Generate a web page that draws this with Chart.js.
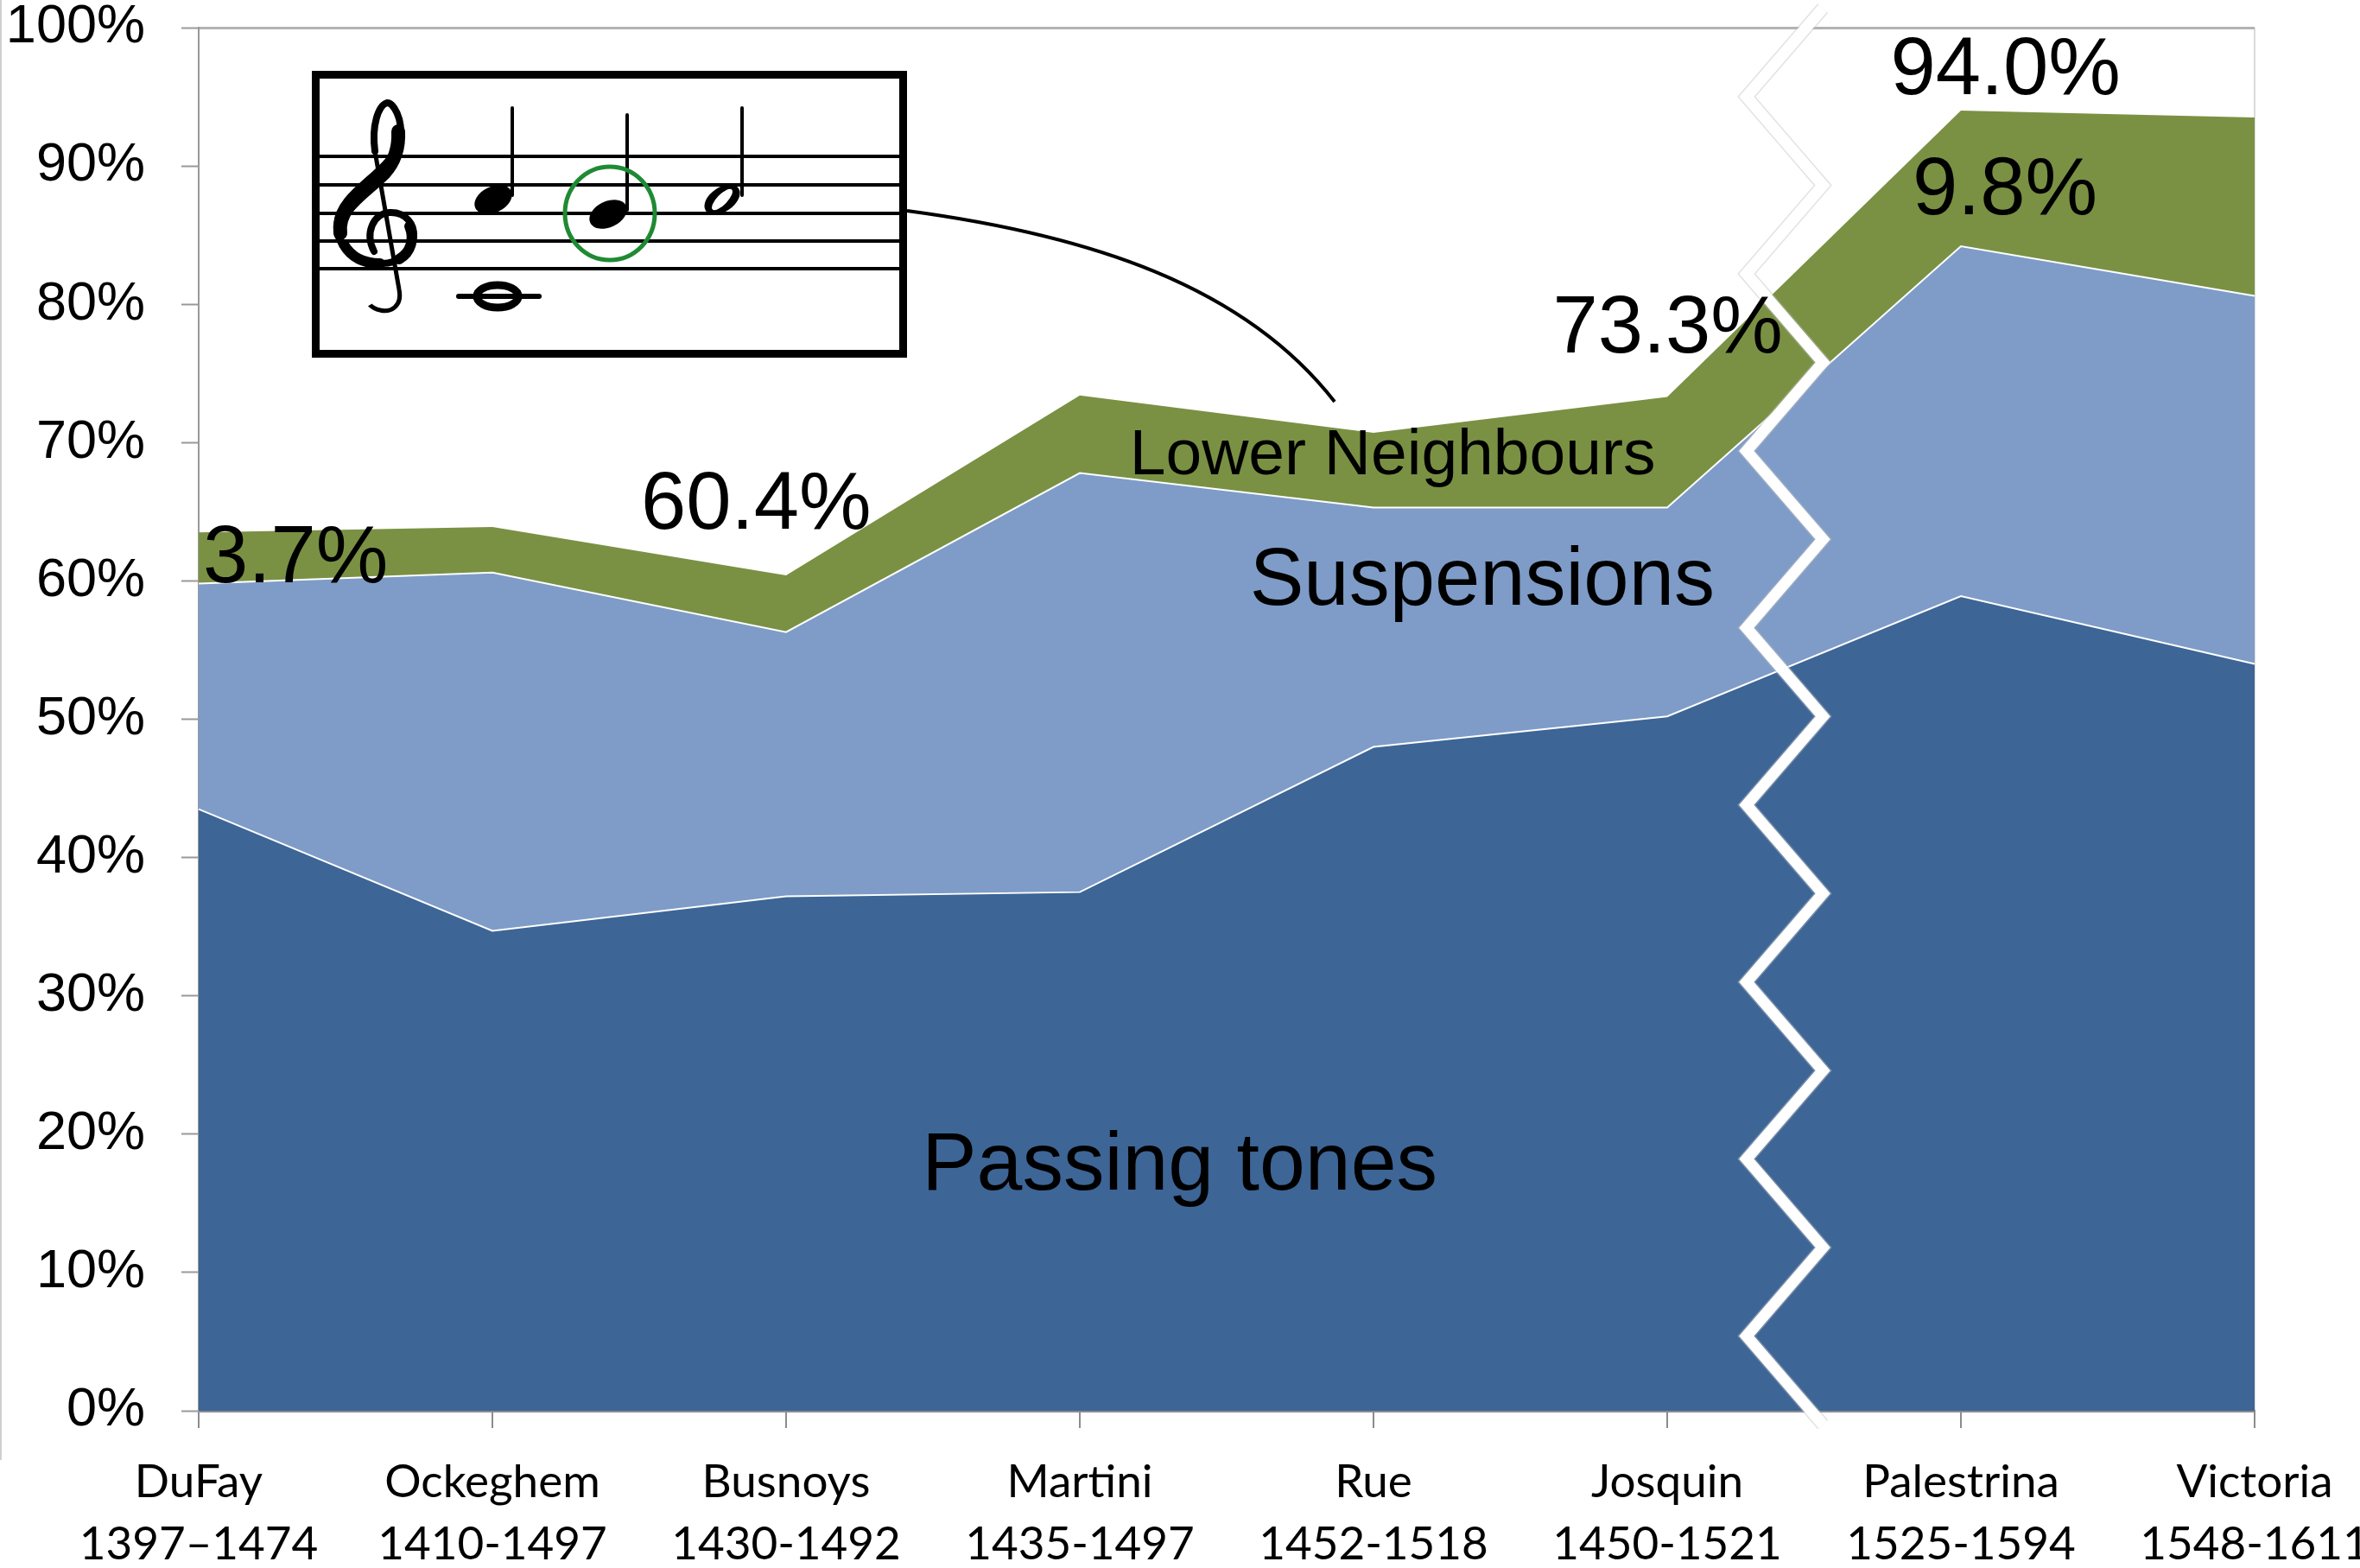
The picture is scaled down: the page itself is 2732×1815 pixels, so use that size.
<!DOCTYPE html>
<html>
<head>
<meta charset="utf-8">
<script src="https://cdn.jsdelivr.net/npm/chart.js@4.4.1/dist/chart.umd.min.js"></script>
<style>
  html, body { margin: 0; padding: 0; background: #fff; overflow: hidden; }
  canvas { display: block; }
</style>
</head>
<body>
<canvas id="chart" width="2732" height="1815"></canvas>
<script>
// Composers and their dates (two-line x labels)
const composers = ['DuFay', 'Ockeghem', 'Busnoys', 'Martini', 'Rue', 'Josquin', 'Palestrina', 'Victoria'];
const lifespans = ['1397\u20131474', '1410-1497', '1430-1492', '1435-1497', '1452-1518', '1450-1521', '1525-1594', '1548-1611'];

// Share of each dissonance type (percent, stacked)
const passingTones = [43.5, 34.7, 37.2, 37.5, 48.0, 50.2, 58.9, 54.0];
const suspensions = [16.3, 25.9, 19.1, 30.3, 17.3, 15.1, 25.3, 26.6];
const lowerNeighbours = [3.7, 3.3, 4.1, 5.6, 5.4, 8.0, 9.8, 12.9];

const yTicks = [0, 10, 20, 30, 40, 50, 60, 70, 80, 90, 100];

// Text written on the chart: [text, category position, value, font size, align]
const notes = [
    ['Passing tones', 3.34, 16.0, 95, 'center'],
    ['Suspensions', 4.37, 58.3, 94, 'center'],
    ['Lower Neighbours', 4.065, 67.7, 75, 'center'],
    ['3.7%', 0.015, 59.9, 94, 'left'],
    ['60.4%', 1.506, 63.8, 94, 'left'],
    ['73.3%', 4.61, 76.5, 94, 'left'],
    ['94.0%', 5.76, 95.2, 94, 'left'],
    ['9.8%', 5.835, 86.5, 94, 'left']
];

const labels = composers.map((c, i) => [c, lifespans[i]]);

// little staff with the circled lower neighbour
function drawStaff(ctx) {
    ctx.save();
    ctx.fillStyle = '#fff';
    ctx.fillRect(361, 82, 689, 332);
    ctx.strokeStyle = '#000';
    ctx.lineWidth = 9;
    ctx.strokeRect(365.5, 86.5, 680, 323);

    ctx.lineWidth = 4;
    [181, 214, 247, 279, 311].forEach(y => {
        ctx.beginPath();
        ctx.moveTo(370, y);
        ctx.lineTo(1041, y);
        ctx.stroke();
    });

    // treble clef
    ctx.lineCap = 'round';
    ctx.lineJoin = 'round';
    ctx.lineWidth = 8;
    ctx.beginPath();
    ctx.moveTo(433, 291);
    ctx.bezierCurveTo(422, 270, 432, 247, 451, 246);
    ctx.bezierCurveTo(470, 245, 480, 260, 479, 274);
    ctx.bezierCurveTo(477, 293, 460, 306, 440, 305);
    ctx.bezierCurveTo(410, 304, 389, 285, 390, 260);
    ctx.bezierCurveTo(392, 220, 455, 200, 463, 160);
    ctx.bezierCurveTo(467, 138, 455, 118, 448, 119);
    ctx.bezierCurveTo(438, 122, 430, 145, 434, 175);
    ctx.stroke();
    ctx.lineWidth = 5;
    ctx.beginPath();
    ctx.moveTo(434, 175);
    ctx.lineTo(462, 335);
    ctx.bezierCurveTo(466, 355, 452, 362, 440, 359);
    ctx.bezierCurveTo(430, 357, 424, 350, 424, 344);
    ctx.stroke();
    ctx.lineWidth = 16;
    ctx.beginPath();
    ctx.moveTo(394, 270);
    ctx.bezierCurveTo(390, 240, 420, 225, 445, 200);
    ctx.bezierCurveTo(457, 187, 462, 172, 461, 152);
    ctx.stroke();
    ctx.lineWidth = 12;
    ctx.beginPath();
    ctx.moveTo(398, 283);
    ctx.bezierCurveTo(408, 300, 425, 305, 440, 305);
    ctx.stroke();
    ctx.beginPath();
    ctx.moveTo(474, 262);
    ctx.bezierCurveTo(480, 276, 476, 292, 462, 300);
    ctx.stroke();
    ctx.beginPath();
    ctx.arc(421, 341, 14, 0, Math.PI * 2);
    ctx.fill();

    // quarter notes
    ctx.fillStyle = '#000';
    ctx.lineWidth = 4;
    ctx.beginPath();
    ctx.ellipse(571, 231, 23, 15, -0.45, 0, Math.PI * 2);
    ctx.fill();
    ctx.beginPath();
    ctx.moveTo(593, 226);
    ctx.lineTo(593, 125);
    ctx.stroke();

    ctx.beginPath();
    ctx.ellipse(704, 248, 23, 15, -0.45, 0, Math.PI * 2);
    ctx.fill();
    ctx.beginPath();
    ctx.moveTo(726, 243);
    ctx.lineTo(726, 133);
    ctx.stroke();

    // half note
    ctx.beginPath();
    ctx.ellipse(836, 231, 23, 14, -0.6, 0, Math.PI * 2);
    ctx.fill();
    ctx.fillStyle = '#fff';
    ctx.beginPath();
    ctx.ellipse(836, 231, 16, 6, -0.8, 0, Math.PI * 2);
    ctx.fill();
    ctx.beginPath();
    ctx.moveTo(859, 226);
    ctx.lineTo(859, 125);
    ctx.stroke();

    // whole note on ledger line
    ctx.lineWidth = 9;
    ctx.beginPath();
    ctx.ellipse(576, 343, 24, 13, 0, 0, Math.PI * 2);
    ctx.stroke();
    ctx.lineWidth = 6;
    ctx.beginPath();
    ctx.moveTo(531, 343);
    ctx.lineTo(624, 343);
    ctx.stroke();

    // green circle
    ctx.strokeStyle = '#1f8a33';
    ctx.lineWidth = 5;
    ctx.beginPath();
    ctx.ellipse(706, 247, 52, 54, 0, 0, Math.PI * 2);
    ctx.stroke();

    // pointer to the lower neighbours band
    ctx.strokeStyle = '#000';
    ctx.lineWidth = 4;
    ctx.lineCap = 'butt';
    ctx.beginPath();
    ctx.moveTo(1050, 244);
    ctx.bezierCurveTo(1260, 272, 1440, 330, 1545, 465);
    ctx.stroke();
    ctx.restore();
}

const overlay = {
    id: 'overlay',
    afterDraw(chart) {
        const ctx = chart.ctx;
        const x = chart.scales.x;
        const y = chart.scales.y;

        // faint frame edge on the left
        ctx.save();
        ctx.strokeStyle = '#d0d0d0';
        ctx.lineWidth = 2;
        ctx.beginPath();
        ctx.moveTo(1, 0);
        ctx.lineTo(1, 1690);
        ctx.stroke();

        // zigzag break between Josquin and Palestrina
        const xl = x.getPixelForValue(5.27);
        const xr = x.getPixelForValue(5.53);
        const top = 101.4, bottom = -1.0, steps = 16;
        const path = () => {
            ctx.beginPath();
            for (let i = 0; i <= steps; i++) {
                const v = top + (bottom - top) * i / steps;
                const px = i % 2 === 0 ? xr : xl;
                if (i === 0) ctx.moveTo(px, y.getPixelForValue(v));
                else ctx.lineTo(px, y.getPixelForValue(v));
            }
        };
        ctx.lineJoin = 'miter';
        ctx.miterLimit = 10;
        path();
        ctx.strokeStyle = 'rgba(190,190,190,0.45)';
        ctx.lineWidth = 16;
        ctx.stroke();
        path();
        ctx.strokeStyle = '#fff';
        ctx.lineWidth = 13;
        ctx.stroke();
        ctx.restore();

        drawStaff(ctx);

        // labels on the chart
        ctx.save();
        ctx.fillStyle = '#000';
        ctx.textBaseline = 'alphabetic';
        notes.forEach(([text, pos, val, size, align]) => {
            ctx.font = size + 'px "Liberation Sans", Arial, sans-serif';
            ctx.textAlign = align;
            ctx.fillText(text, x.getPixelForValue(pos), y.getPixelForValue(val));
        });
        ctx.restore();
    }
};

new Chart(document.getElementById('chart'), {
    type: 'line',
    data: {
        labels: labels,
        datasets: [
            {
                label: 'Passing tones',
                data: passingTones,
                backgroundColor: '#3d6596',
                borderColor: '#ffffff',
                borderWidth: 2,
                fill: 'origin'
            },
            {
                label: 'Suspensions',
                data: suspensions,
                backgroundColor: '#7e9cc7',
                borderColor: '#ffffff',
                borderWidth: 2,
                fill: '-1'
            },
            {
                label: 'Lower Neighbours',
                data: lowerNeighbours,
                backgroundColor: '#7a9144',
                borderColor: '#7a9144',
                borderWidth: 0,
                fill: '-1'
            }
        ]
    },
    options: {
        responsive: false,
        animation: false,
        events: [],
        elements: {
            point: { radius: 0 },
            line: { tension: 0 }
        },
        layout: { padding: { top: 32, right: 122, bottom: 0, left: 0 } },
        plugins: {
            legend: { display: false },
            tooltip: { enabled: false }
        },
        scales: {
            x: {
                offset: false,
                grid: {
                    drawOnChartArea: true,
                    color: (c) => c.index === composers.length - 1 ? '#dadada' : 'rgba(0,0,0,0)',
                    lineWidth: 2,
                    tickColor: '#8c8c8c',
                    tickWidth: 2,
                    tickLength: 20
                },
                border: { color: '#8c8c8c', width: 3 },
                ticks: {
                    color: '#000',
                    padding: 27,
                    labelOffset: 0,
                    maxRotation: 0,
                    autoSkip: false,
                    font: { family: 'Lato, "Open Sans", sans-serif', size: 53, lineHeight: 1.36 }
                },
                afterFit: (s) => { s.height = 182; s.paddingLeft = 0; s.paddingRight = 0; }
            },
            y: {
                stacked: true,
                min: 0,
                max: 100,
                afterBuildTicks: (s) => { s.ticks = yTicks.map(v => ({ value: v })); },
                grid: {
                    color: (c) => c.tick && c.tick.value === 100 ? '#b3b3b3' : 'rgba(0,0,0,0)',
                    lineWidth: 3,
                    tickColor: '#999999',
                    tickWidth: 2,
                    tickLength: 20
                },
                border: { color: '#999999', width: 2 },
                ticks: {
                    color: '#000',
                    padding: 42,
                    callback: (v) => v + '%',
                    font: { family: '"Liberation Sans", Arial, sans-serif', size: 63 }
                },
                afterFit: (s) => { s.width = 230; s.paddingTop = 0; s.paddingBottom = 0; }
            }
        }
    },
    plugins: [overlay]
});
</script>
</body>
</html>
